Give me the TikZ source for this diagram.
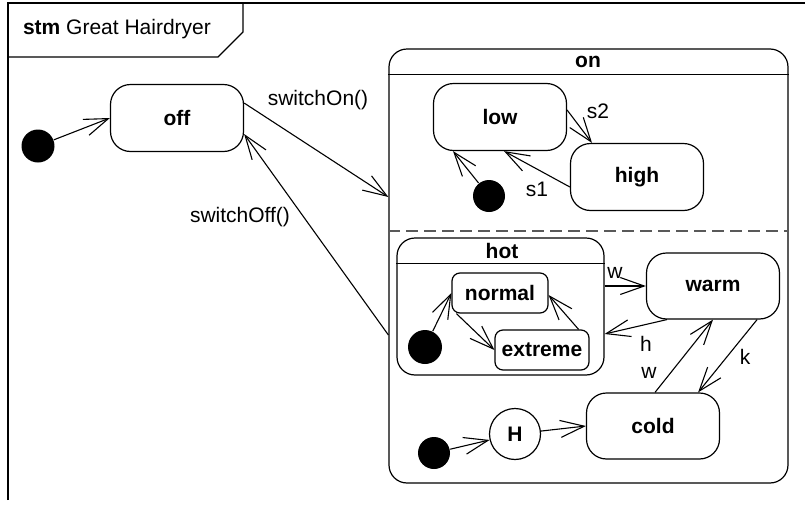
\documentclass[tikz,border=0pt]{standalone}
\usepackage{fontspec}
\setmainfont{Liberation Sans}
\usetikzlibrary{positioning,arrows.meta,calc}
\tikzset{
  transarrow/.style={-{Straight Barb[length=12pt, width=8.5pt]}, line width=0.55pt},
  statenode/.style={draw, rounded corners=10pt, line width=0.6pt, minimum width=66.5pt, minimum height=33.5pt, align=center, font=\fontsize{10.5}{12}\selectfont\bfseries},
  substatenode/.style={draw, rounded corners=4pt, line width=0.6pt, minimum height=20pt, inner sep=2pt, align=center, font=\fontsize{10.5}{12}\selectfont\bfseries},
  compnode/.style={draw, rounded corners=9pt, line width=0.6pt, inner sep=0pt},
  initnode/.style={circle, fill=black, inner sep=0pt, minimum size=16.5pt},
  histnode/.style={circle, draw, line width=0.6pt, minimum size=25.5pt, inner sep=0pt, font=\fontsize{10.5}{12}\selectfont\bfseries},
  trlabel/.style={font=\fontsize{10.5}{12}\selectfont, inner sep=1pt},
  complabel/.style={font=\fontsize{10.5}{12}\selectfont\bfseries, inner sep=1pt}
}

\begin{document}
\begin{tikzpicture}[x=0.5pt, y=-0.5pt, line width=0.6pt]
  \useasboundingbox (0,0) rectangle (805,509);
  % frame
  \draw (8,500) -- (8,3) -- (805,3);
  \draw (8,57) -- (218,57) -- (243,32) -- (243,3);
  \node[trlabel] (title) at (117,29) {\textbf{stm} Great Hairdryer};

  \node[initnode] (init1) at (38,146) {};
  \node[statenode] (off) at (177,118) {off};

  \node[compnode, minimum width=199.5pt, minimum height=217pt] (on) at (588.5,266) {};
  \node[complabel] (onlabel) at (588,62) {on};
  \draw ($(on.north west)+(0,26)$) -- ($(on.north east)+(0,26)$);
  \draw[dashed, dash pattern=on 6pt off 3pt, gray!70!black] ($(on.west)+(0,-35)$) -- ($(on.east)+(0,-35)$);

  \node[statenode] (low) at (500,117) {low};
  \node[statenode] (high) at (637,177) {high};
  \node[initnode, minimum size=16pt] (init2) at (489,196) {};

  \node[compnode, minimum width=103.5pt, minimum height=68.5pt] (hot) at (500.5,306.5) {};
  \node[complabel] (hotlabel) at (502,251) {hot};
  \draw ($(hot.north west)+(0,26)$) -- ($(hot.north east)+(0,26)$);
  \node[substatenode, minimum width=48pt] (normal) at (500,293) {normal};
  \node[substatenode, minimum width=47pt] (extreme) at (542,350) {extreme};
  \node[initnode, minimum size=17pt] (init3) at (425,347) {};

  \node[statenode, minimum height=33pt] (warm) at (713,286) {warm};
  \node[statenode, minimum height=33pt] (cold) at (653,426) {cold};
  \node[histnode] (hist) at (515,434) {H};
  \node[initnode, minimum size=16pt] (init4) at (434,453) {};

  \draw[transarrow] (init1) -- (off.west);
  \draw[transarrow] ($(off.east)+(0,-15)$) -- ($(on.west)+(0,-69)$);
  \draw[transarrow] ($(on.west)+(0,69)$) -- ($(off.east)+(0,16)$);
  \node[trlabel] (lswon) at (318,100) {switchOn()};
  \node[trlabel] (lswoff) at (240,217) {switchOff()};

  \draw[transarrow] (init2) -- ($(low.south)+(-47,0)$);
  \draw[transarrow] ($(low.east)+(0,-7)$) -- ($(high.north)+(-45,0)$);
  \draw[transarrow] ($(high.west)+(0,10)$) -- ($(low.south)+(4,0)$);
  \node[trlabel] (ls2) at (598,111) {s2};
  \node[trlabel] (ls1) at (537,189) {s1};

  \draw[transarrow] (init3) -- (normal.west);
  \draw[transarrow] ($(normal.south west)+(5,0)$) -- (extreme.west);
  \draw[transarrow] ($(extreme.north east)+(-11,0)$) -- ($(normal.east)+(0,2)$);

  \draw[transarrow] (hot.east |- warm.west) -- (warm.west);
  \draw[transarrow] ($(warm.south west)+(21,0)$) -- ($(hot.east)+(0,27.5)$);
  \draw[transarrow] ($(warm.south east)+(-23,0)$) -- ($(cold.north east)+(-22,0)$);
  \draw[transarrow] ($(cold.north)+(2,0)$) -- (warm.south);
  \node[trlabel] (lw1) at (615,273) {w};
  \node[trlabel] (lh) at (646,344) {h};
  \node[trlabel] (lk) at (745,357) {k};
  \node[trlabel] (lw2) at (649,373) {w};

  \draw[transarrow] (init4) -- (hist);
  \draw[transarrow] (hist) -- (cold.west);
\end{tikzpicture}
\end{document}
